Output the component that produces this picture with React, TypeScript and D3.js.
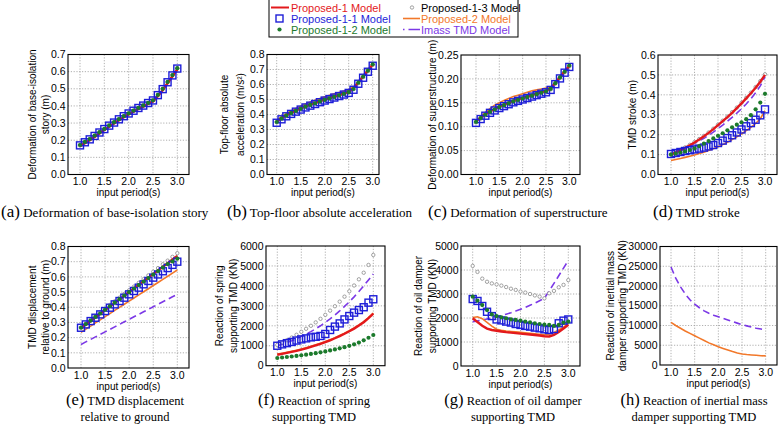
import * as d3 from "d3";

// input period (s) for every series
const periods = [1.0, 1.1, 1.2, 1.3, 1.4, 1.5, 1.6, 1.7, 1.8, 1.9, 2.0, 2.1, 2.2, 2.3, 2.4, 2.5, 2.6, 2.7, 2.8, 2.9, 3.0];

// (a) deformation of base-isolation story (m)
const aP1 = [0.165, 0.183, 0.200, 0.219, 0.239, 0.259, 0.279, 0.297, 0.316, 0.334, 0.350, 0.366, 0.382, 0.396, 0.411, 0.426, 0.457, 0.492, 0.532, 0.572, 0.612];
const aP11 = [0.170, 0.188, 0.205, 0.225, 0.245, 0.265, 0.285, 0.303, 0.322, 0.340, 0.356, 0.372, 0.388, 0.402, 0.417, 0.432, 0.463, 0.498, 0.538, 0.578, 0.618];
const aP12 = [0.172, 0.190, 0.207, 0.227, 0.247, 0.266, 0.286, 0.305, 0.323, 0.341, 0.357, 0.373, 0.389, 0.403, 0.418, 0.433, 0.464, 0.500, 0.540, 0.580, 0.620];
const aP13 = [0.171, 0.189, 0.206, 0.226, 0.246, 0.266, 0.285, 0.304, 0.323, 0.340, 0.357, 0.372, 0.388, 0.403, 0.417, 0.432, 0.464, 0.499, 0.539, 0.579, 0.619];
const aP2 = [0.168, 0.186, 0.203, 0.222, 0.242, 0.262, 0.282, 0.300, 0.319, 0.337, 0.353, 0.369, 0.385, 0.399, 0.414, 0.429, 0.460, 0.495, 0.535, 0.575, 0.615];
const aImass = [0.170, 0.188, 0.205, 0.225, 0.245, 0.264, 0.284, 0.302, 0.321, 0.339, 0.355, 0.371, 0.387, 0.401, 0.416, 0.431, 0.462, 0.497, 0.537, 0.577, 0.617];

// (b) top-floor absolute acceleration (m/s2)
const bP1 = [0.352, 0.375, 0.395, 0.411, 0.426, 0.440, 0.454, 0.466, 0.477, 0.489, 0.500, 0.510, 0.520, 0.530, 0.540, 0.551, 0.575, 0.615, 0.655, 0.695, 0.733];
const bP11 = [0.345, 0.368, 0.388, 0.404, 0.419, 0.433, 0.447, 0.459, 0.470, 0.482, 0.493, 0.503, 0.513, 0.523, 0.533, 0.544, 0.565, 0.605, 0.645, 0.685, 0.725];
const bP12 = [0.350, 0.373, 0.393, 0.409, 0.424, 0.438, 0.452, 0.464, 0.475, 0.487, 0.498, 0.508, 0.518, 0.528, 0.538, 0.549, 0.570, 0.612, 0.652, 0.692, 0.735];
const bP13 = [0.348, 0.371, 0.391, 0.407, 0.422, 0.436, 0.450, 0.462, 0.473, 0.485, 0.496, 0.506, 0.516, 0.526, 0.536, 0.547, 0.568, 0.609, 0.649, 0.689, 0.730];
const bP2 = [0.360, 0.385, 0.405, 0.423, 0.440, 0.456, 0.470, 0.483, 0.495, 0.507, 0.518, 0.528, 0.538, 0.547, 0.556, 0.565, 0.585, 0.612, 0.650, 0.690, 0.730];
const bImass = [0.355, 0.378, 0.398, 0.414, 0.429, 0.442, 0.455, 0.467, 0.478, 0.490, 0.500, 0.510, 0.520, 0.530, 0.540, 0.550, 0.568, 0.607, 0.647, 0.687, 0.727];

// (c) deformation of superstructure (m)
const cP1 = [0.111, 0.119, 0.126, 0.132, 0.137, 0.142, 0.146, 0.150, 0.154, 0.157, 0.160, 0.163, 0.166, 0.169, 0.172, 0.175, 0.180, 0.192, 0.204, 0.216, 0.227];
const cP11 = [0.108, 0.116, 0.123, 0.129, 0.134, 0.139, 0.143, 0.147, 0.151, 0.154, 0.157, 0.160, 0.163, 0.166, 0.169, 0.172, 0.177, 0.189, 0.201, 0.213, 0.225];
const cP12 = [0.110, 0.118, 0.125, 0.131, 0.136, 0.141, 0.145, 0.149, 0.153, 0.156, 0.159, 0.162, 0.165, 0.168, 0.171, 0.174, 0.179, 0.191, 0.203, 0.215, 0.228];
const cP13 = [0.109, 0.117, 0.124, 0.130, 0.135, 0.140, 0.144, 0.148, 0.152, 0.155, 0.158, 0.161, 0.164, 0.167, 0.170, 0.173, 0.178, 0.190, 0.202, 0.214, 0.226];
const cP2 = [0.110, 0.121, 0.130, 0.138, 0.145, 0.150, 0.155, 0.159, 0.163, 0.166, 0.169, 0.172, 0.175, 0.177, 0.179, 0.181, 0.183, 0.190, 0.202, 0.214, 0.226];
const cImass = [0.112, 0.120, 0.127, 0.133, 0.138, 0.143, 0.147, 0.151, 0.155, 0.158, 0.161, 0.164, 0.167, 0.170, 0.173, 0.176, 0.180, 0.191, 0.203, 0.215, 0.227];

// (d) TMD stroke (m)
const dP1 = [0.100, 0.111, 0.122, 0.134, 0.147, 0.161, 0.176, 0.192, 0.209, 0.228, 0.248, 0.268, 0.288, 0.310, 0.333, 0.357, 0.382, 0.408, 0.436, 0.466, 0.500];
const dP11 = [0.103, 0.108, 0.113, 0.118, 0.122, 0.126, 0.130, 0.135, 0.141, 0.148, 0.158, 0.170, 0.183, 0.197, 0.211, 0.226, 0.242, 0.258, 0.275, 0.297, 0.327];
const dP12 = [0.100, 0.105, 0.110, 0.116, 0.123, 0.131, 0.142, 0.155, 0.168, 0.181, 0.194, 0.207, 0.222, 0.237, 0.250, 0.262, 0.278, 0.298, 0.327, 0.361, 0.405];
const dP13 = [0.102, 0.113, 0.124, 0.136, 0.149, 0.163, 0.178, 0.194, 0.211, 0.230, 0.250, 0.270, 0.291, 0.313, 0.336, 0.360, 0.385, 0.411, 0.439, 0.469, 0.503];
const dP2 = [0.070, 0.075, 0.080, 0.086, 0.092, 0.098, 0.105, 0.112, 0.120, 0.129, 0.139, 0.150, 0.162, 0.175, 0.189, 0.204, 0.220, 0.237, 0.256, 0.280, 0.320];
const dImass = [0.100, 0.109, 0.119, 0.130, 0.142, 0.155, 0.168, 0.182, 0.197, 0.213, 0.230, 0.248, 0.267, 0.287, 0.308, 0.330, 0.354, 0.380, 0.410, 0.445, 0.490];

// (e) TMD displacement relative to ground (m)
const eP1 = [0.262, 0.286, 0.310, 0.333, 0.357, 0.381, 0.405, 0.429, 0.452, 0.476, 0.500, 0.524, 0.548, 0.571, 0.595, 0.619, 0.643, 0.667, 0.690, 0.714, 0.738];
const eP11 = [0.265, 0.287, 0.309, 0.331, 0.353, 0.375, 0.397, 0.419, 0.441, 0.463, 0.485, 0.507, 0.529, 0.551, 0.573, 0.595, 0.616, 0.637, 0.658, 0.679, 0.700];
const eP12 = [0.265, 0.289, 0.312, 0.336, 0.359, 0.383, 0.406, 0.430, 0.453, 0.477, 0.500, 0.523, 0.546, 0.569, 0.592, 0.615, 0.638, 0.661, 0.684, 0.702, 0.720];
const eP13 = [0.268, 0.293, 0.317, 0.341, 0.366, 0.390, 0.415, 0.439, 0.463, 0.488, 0.512, 0.536, 0.561, 0.585, 0.610, 0.634, 0.658, 0.683, 0.707, 0.732, 0.756];
const eP2 = [0.235, 0.256, 0.276, 0.297, 0.317, 0.338, 0.358, 0.379, 0.399, 0.420, 0.440, 0.461, 0.481, 0.502, 0.522, 0.543, 0.563, 0.584, 0.604, 0.625, 0.645];
const eImass = [0.155, 0.172, 0.188, 0.205, 0.221, 0.238, 0.254, 0.271, 0.287, 0.304, 0.320, 0.337, 0.353, 0.370, 0.386, 0.403, 0.419, 0.436, 0.452, 0.469, 0.485];

// (f) reaction of spring supporting TMD (KN)
const fP1 = [550, 595, 640, 690, 745, 805, 870, 940, 1015, 1095, 1180, 1275, 1375, 1485, 1600, 1725, 1860, 2010, 2180, 2380, 2610];
const fP11 = [1000, 1070, 1130, 1190, 1260, 1320, 1370, 1420, 1450, 1490, 1590, 1790, 1960, 2120, 2320, 2490, 2660, 2790, 2930, 3160, 3330];
const fP12 = [385, 410, 435, 460, 490, 520, 555, 590, 630, 670, 715, 765, 815, 870, 930, 995, 1070, 1160, 1270, 1400, 1540];
const fP13 = [1040, 1160, 1280, 1410, 1550, 1700, 1850, 2000, 2170, 2350, 2550, 2760, 2980, 3210, 3460, 3730, 4020, 4330, 4660, 5050, 5550];
const fP2 = [580, 625, 670, 720, 775, 835, 900, 970, 1045, 1125, 1210, 1305, 1405, 1515, 1630, 1755, 1890, 2040, 2210, 2410, 2640];
const fImass = [1000, 1080, 1160, 1250, 1350, 1460, 1580, 1710, 1850, 2000, 2170, 2350, 2540, 2750, 2970, 3200, 3450, 3720, 4000, 4300, 4600];

// (g) reaction of oil damper supporting TMD (KN)
const gP1 = [1990, 1830, 1680, 1560, 1500, 1470, 1440, 1410, 1390, 1370, 1350, 1330, 1310, 1290, 1270, 1240, 1230, 1300, 1420, 1560, 1720];
const gP11 = [2790, 2710, 2500, 2260, 2080, 1940, 1900, 1850, 1810, 1750, 1710, 1670, 1640, 1600, 1570, 1530, 1500, 1540, 1780, 1890, 1940];
const gP12 = [2890, 2720, 2540, 2330, 2150, 2080, 2030, 1990, 1940, 1920, 1890, 1850, 1820, 1780, 1750, 1720, 1710, 1670, 1710, 1810, 1850];
const gP13 = [4170, 3920, 3640, 3510, 3440, 3400, 3350, 3290, 3220, 3170, 3100, 3060, 3000, 2940, 2890, 2820, 3030, 3130, 3280, 3380, 3580];
const gP2 = [2020, 2050, 1970, 1820, 1660, 1530, 1490, 1460, 1440, 1420, 1400, 1380, 1360, 1340, 1320, 1300, 1320, 1400, 1500, 1620, 1760];
const gImass = [1850, 1880, 1920, 1960, 2000, 2050, 2100, 2160, 2220, 2290, 2360, 2440, 2530, 2620, 2720, 2820, 3130, 3440, 3760, 4080, 4400];

// (h) reaction of inertial mass damper supporting TMD (KN)
const hP2 = [10800, 10000, 9300, 8600, 8000, 7400, 6800, 6200, 5600, 5100, 4600, 4200, 3800, 3400, 3050, 2800, 2650, 2550, 2450, 2350, 2300];
const hImass = [24800, 22000, 19800, 18000, 16500, 15400, 14500, 13700, 13100, 12600, 12200, 11800, 11400, 11000, 10600, 10200, 9900, 9600, 9300, 9100, 8900];

const xTicks = [1.0, 1.5, 2.0, 2.5, 3.0];

type Key = "p1" | "p11" | "p12" | "p13" | "p2" | "imass";

const modelNames: Record<Key, string> = {
  p1: "Proposed-1 Model",
  p11: "Proposed-1-1 Model",
  p12: "Proposed-1-2 Model",
  p13: "Proposed-1-3 Model",
  p2: "Proposed-2 Model",
  imass: "Imass TMD Model",
};

const colors: Record<Key, string> = {
  p1: "#e3191c",
  p11: "#1e1ed8",
  p12: "#1c7a2c",
  p13: "#8a8a8a",
  p2: "#f2782a",
  imass: "#7b38e6",
};

const drawOrder: Key[] = ["imass", "p13", "p2", "p1", "p11", "p12"];

const SANS = "'Liberation Sans', Arial, sans-serif";
const SERIF = "'Liberation Serif', 'Times New Roman', serif";

const panels = [
  { id: "a", left: 68, right: 189, x1: 80, x3: 177.3, top: 54.5, bottom: 174.5, yMax: 0.7, yStep: 0.1, fmt: ".1f",
    ylabel: ["Deformation of base-isolation", "story (m)"], yOff: [-32.5, -19.5],
    data: { p1: aP1, p11: aP11, p12: aP12, p13: aP13, p2: aP2, imass: aImass } },
  { id: "b", left: 267, right: 379, x1: 276.7, x3: 372.7, top: 54.5, bottom: 174.5, yMax: 0.8, yStep: 0.1, fmt: ".1f",
    ylabel: ["Top-floor absolute", "acceleration (m/s²)"], yOff: [-39.5, -23.5],
    data: { p1: bP1, p11: bP11, p12: bP12, p13: bP13, p2: bP2, imass: bImass } },
  { id: "c", left: 461, right: 580, x1: 476, x3: 569.3, top: 55, bottom: 174.5, yMax: 0.25, yStep: 0.05, fmt: ".2f",
    ylabel: ["Deformation of superstructure (m)"], yOff: [-25.5],
    data: { p1: cP1, p11: cP11, p12: cP12, p13: cP13, p2: cP2, imass: cImass } },
  { id: "d", left: 658, right: 777, x1: 671, x3: 765, top: 55, bottom: 174.5, yMax: 0.6, yStep: 0.1, fmt: ".1f",
    ylabel: ["TMD stroke (m)"], yOff: [-22.5],
    data: { p1: dP1, p11: dP11, p12: dP12, p13: dP13, p2: dP2, imass: dImass } },
  { id: "e", left: 68, right: 189, x1: 81, x3: 177.3, top: 246.5, bottom: 368, yMax: 0.8, yStep: 0.1, fmt: ".1f",
    ylabel: ["TMD displacement", "relative to ground (m)"], yOff: [-32.5, -19.5],
    data: { p1: eP1, p11: eP11, p12: eP12, p13: eP13, p2: eP2, imass: eImass } },
  { id: "f", left: 266, right: 385, x1: 277.3, x3: 373.3, top: 246, bottom: 365.7, yMax: 6000, yStep: 1000, fmt: "d",
    ylabel: ["Reaction of spring", "supporting TMD (KN)"], yOff: [-43.5, -29.5],
    data: { p1: fP1, p11: fP11, p12: fP12, p13: fP13, p2: fP2, imass: fImass } },
  { id: "g", left: 461, right: 580, x1: 472.7, x3: 568.3, top: 246, bottom: 366, yMax: 5000, yStep: 1000, fmt: "d",
    ylabel: ["Reaction of oil damper", "supporting TMD (KN)"], yOff: [-39.5, -25.5],
    data: { p1: gP1, p11: gP11, p12: gP12, p13: gP13, p2: gP2, imass: gImass } },
  { id: "h", left: 660, right: 777, x1: 671, x3: 765.7, top: 246.5, bottom: 365, yMax: 30000, yStep: 5000, fmt: "d",
    ylabel: ["Reaction of inertial mass", "damper supporting TMD (KN)"], yOff: [-46.5, -34.5],
    data: { p2: hP2, imass: hImass } as Partial<Record<Key, number[]>> },
];

const topCaptions = [
  { label: "(a)", text: "Deformation of base-isolation story", x: 1 },
  { label: "(b)", text: "Top-floor absolute acceleration", x: 227 },
  { label: "(c)", text: "Deformation of superstructure", x: 428 },
  { label: "(d)", text: "TMD stroke", x: 653 },
];

const bottomCaptions = [
  { label: "(e)", lines: ["TMD displacement", "relative to ground"], x: 125 },
  { label: "(f)", lines: ["Reaction of spring", "supporting TMD"], x: 314 },
  { label: "(g)", lines: ["Reaction of oil damper", "supporting TMD"], x: 513 },
  { label: "(h)", lines: ["Reaction of inertial mass", "damper supporting TMD"], x: 694 },
];

function Marker({ k, cx, cy }: { k: Key; cx: number; cy: number }) {
  if (k === "p11") {
    return <rect x={cx - 3.5} y={cy - 3.5} width={7} height={7} fill="none" stroke={colors.p11} strokeWidth={1.4} />;
  }
  if (k === "p12") {
    return <circle cx={cx} cy={cy} r={2.1} fill={colors.p12} />;
  }
  return <circle cx={cx} cy={cy} r={1.7} fill="white" stroke={colors.p13} strokeWidth={0.8} />;
}

function Panel({ p }: { p: (typeof panels)[number] }) {
  const x = d3.scaleLinear().domain([1, 3]).range([p.x1, p.x3]);
  const y = d3.scaleLinear().domain([0, p.yMax]).range([p.bottom, p.top]);
  const yTicks = d3.range(0, p.yMax + p.yStep / 2, p.yStep);
  const fmt = d3.format(p.fmt);
  const line = d3.line<number>().x((_, i) => x(periods[i])).y((v) => y(v));
  const data = p.data as Partial<Record<Key, number[]>>;
  const midY = (p.top + p.bottom) / 2;
  const midX = (p.left + p.right) / 2;

  return (
    <g>
      <clipPath id={`clip-${p.id}`}>
        <rect x={p.left} y={p.top - 4} width={p.right - p.left} height={p.bottom - p.top + 4} />
      </clipPath>
      {/* grid */}
      {xTicks.map((t) => (
        <line key={`gx${t}`} x1={x(t)} x2={x(t)} y1={p.top} y2={p.bottom} stroke="#9c9c9c" strokeWidth={0.8} strokeDasharray="1.2,1.6" />
      ))}
      {yTicks.slice(1, -1).map((t) => (
        <line key={`gy${t}`} x1={p.left} x2={p.right} y1={y(t)} y2={y(t)} stroke="#9c9c9c" strokeWidth={0.8} strokeDasharray="1.2,1.6" />
      ))}
      {/* series */}
      <g clipPath={`url(#clip-${p.id})`}>
        {drawOrder.map((k) => {
          const vals = data[k];
          if (!vals) return null;
          if (k === "p1" || k === "p2" || k === "imass") {
            return (
              <path key={k} d={line(vals) ?? ""} fill="none" stroke={colors[k]}
                strokeWidth={k === "p1" ? 2.4 : 1.6}
                strokeDasharray={k === "imass" ? "7,4" : undefined} />
            );
          }
          return (
            <g key={k}>
              {vals.map((v, i) => <Marker key={i} k={k} cx={x(periods[i])} cy={y(v)} />)}
            </g>
          );
        })}
      </g>
      {/* frame */}
      <rect x={p.left} y={p.top} width={p.right - p.left} height={p.bottom - p.top} fill="none" stroke="#000" strokeWidth={1.1} />
      {/* tick labels */}
      {xTicks.map((t) => (
        <text key={`tx${t}`} x={x(t)} y={p.bottom + 10.5} textAnchor="middle" fontSize={10.5} fontFamily={SANS}>{t.toFixed(1)}</text>
      ))}
      {yTicks.map((t) => (
        <text key={`ty${t}`} x={p.left - 2.5} y={y(t) + 3.7} textAnchor="end" fontSize={10.5} fontFamily={SANS}>{fmt(t)}</text>
      ))}
      <text x={midX} y={p.bottom + 21.5} textAnchor="middle" fontSize={10} fontFamily={SANS}>input period(s)</text>
      {p.ylabel.map((s, i) => (
        <text key={s} transform={`translate(${p.left + p.yOff[i]},${midY}) rotate(-90)`} textAnchor="middle" fontSize={10} fontFamily={SANS}>{s}</text>
      ))}
    </g>
  );
}

function Legend() {
  const rows = [7.5, 18.5, 29.5];
  const c1 = 271;
  const c2 = 403;
  const tx1 = 291;
  const tx2 = 421;
  return (
    <g fontFamily={SANS} fontSize={11}>
      <rect x={269} y={-1} width={249} height={38} fill="white" stroke="#000" strokeWidth={1} />
      <line x1={c1} x2={c1 + 18} y1={rows[0]} y2={rows[0]} stroke={colors.p1} strokeWidth={2} />
      <text x={tx1} y={rows[0] + 4} fill={colors.p1}>{modelNames.p1}</text>
      <Marker k="p11" cx={c1 + 8.5} cy={rows[1]} />
      <text x={tx1} y={rows[1] + 4} fill={colors.p11}>{modelNames.p11}</text>
      <Marker k="p12" cx={c1 + 8.5} cy={rows[2]} />
      <text x={tx1} y={rows[2] + 4} fill={colors.p12}>{modelNames.p12}</text>
      <Marker k="p13" cx={c2 + 9} cy={rows[0]} />
      <text x={tx2} y={rows[0] + 4} fill="#000">{modelNames.p13}</text>
      <line x1={c2} x2={c2 + 17} y1={rows[1]} y2={rows[1]} stroke={colors.p2} strokeWidth={1.6} />
      <text x={tx2} y={rows[1] + 4} fill={colors.p2}>{modelNames.p2}</text>
      <line x1={c2} x2={c2 + 17} y1={rows[2]} y2={rows[2]} stroke={colors.imass} strokeWidth={1.6} strokeDasharray="1.5,4,12" />
      <text x={tx2} y={rows[2] + 4} fill={colors.imass}>{modelNames.imass}</text>
    </g>
  );
}

export default function App() {
  return (
    <svg width={778} height={424} style={{ position: "absolute", left: 0, top: 0, background: "#fff" }}>
      {panels.map((p) => <Panel key={p.id} p={p} />)}
      <Legend />
      {topCaptions.map((c) => (
        <text key={c.label} x={c.x} y={217} fontFamily={SERIF} fontSize={13}>
          <tspan fontSize={17}>{c.label}</tspan> {c.text}
        </text>
      ))}
      {bottomCaptions.map((c) => (
        <g key={c.label} fontFamily={SERIF} fontSize={12.5}>
          <text x={c.x} y={405} textAnchor="middle">
            <tspan fontSize={16.5}>{c.label}</tspan> {c.lines[0]}
          </text>
          <text x={c.x} y={420.5} textAnchor="middle">{c.lines[1]}</text>
        </g>
      ))}
    </svg>
  );
}
